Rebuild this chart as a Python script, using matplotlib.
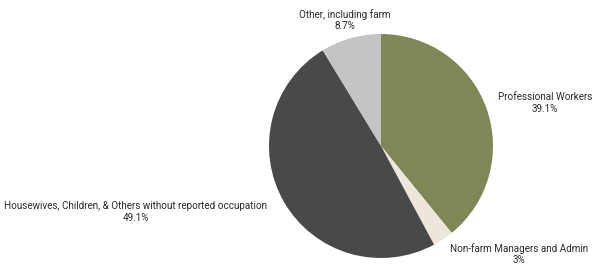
import matplotlib.pyplot as plt

categories = ["Professional Workers", "Non-farm Managers and Admin",
              "Housewives, Children, & Others without reported occupation",
              "Other, including farm"]
shares = [39.1, 3.0, 49.1, 8.7]
pct_labels = ["39.1%", "3%", "49.1%", "8.7%"]
colors = ["#7f8757", "#ede7db", "#494949", "#c4c4c4"]

# label centres in pixels (x, y from top) of the 594x266 canvas
label_px = [(545, 103), (519, 254), (136, 212), (345, 20)]

W, H = 594, 266
fig = plt.figure(figsize=(W / 100, H / 100), dpi=100, facecolor="white")
cx, cy, r = 381, 146, 112
ax = fig.add_axes([(cx - r) / W, (H - cy - r) / H, 2 * r / W, 2 * r / H])
ax.pie(shares, colors=colors, startangle=90, counterclock=False,
       wedgeprops=dict(linewidth=0))
ax.set_xlim(-1, 1); ax.set_ylim(-1, 1)
ax.set_aspect("equal")
ax.axis("off")

for name, pct, (px, py) in zip(categories, pct_labels, label_px):
    fig.text(px / W, 1 - py / H, name + "\n" + pct, ha="center", va="center",
             fontsize=7.1, family=["Roboto", "DejaVu Sans"], color="#2a2a2a",
             linespacing=1.2)

fig.savefig("out.png", dpi=100, facecolor="white")
